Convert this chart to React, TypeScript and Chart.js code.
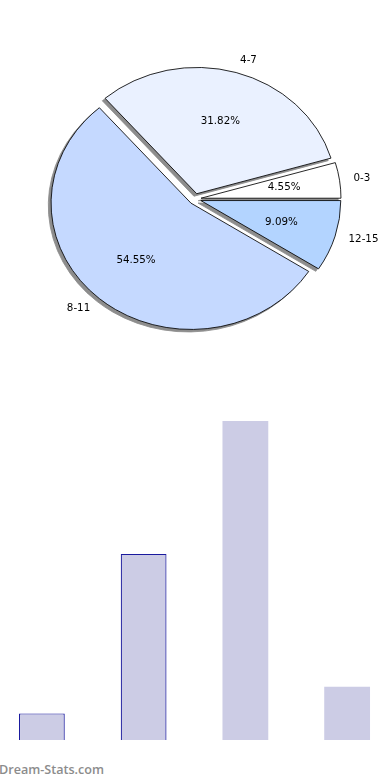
import React, { useEffect, useRef } from "react";
import { Chart, registerables } from "chart.js";

Chart.register(...registerables);

// ---- data ----
const categories = ["0-3", "4-7", "8-11", "12-15"];
const counts = [1, 7, 12, 2];
const pieColors = ["#ffffff", "#eaf1ff", "#c5d9ff", "#b3d4ff"];
const watermark = "Dream-Stats.com";

// ---- styling constants ----
const PIE_RADIUS = 126.3;
const X_STRETCH = 1.108;
const EXPLODE = 5.5;
const SHADOW = 2.5;
const SHADOW_COLOR = "#8d8d8d";
const LABEL_FONT_SIZE = 10.3;
const LABEL_FONT = `${LABEL_FONT_SIZE}px 'DejaVu Sans'`;
const BAR_FILL = "rgb(204,204,229)";
const BAR_EDGE = "#1a1a9e";

const total = counts.reduce((a, b) => a + b, 0);

const pieDrawPlugin = {
  id: "pieDraw",
  beforeDatasetDraw(chart: any, args: any) {
    const arcs = args.meta.data;
    if (!arcs.length) return;
    const ctx = chart.ctx;
    const cx = arcs[0].x;
    const cy = arcs[0].y;
    ctx.save();
    ctx.translate(cx, cy);
    ctx.scale(X_STRETCH, 1);
    ctx.translate(-cx, -cy);
    // shadows (drawn beneath every wedge)
    arcs.forEach((arc: any) => {
      const mid = (arc.startAngle + arc.endAngle) / 2;
      const o = arc.options;
      ctx.save();
      ctx.translate(Math.cos(mid) * EXPLODE - SHADOW, Math.sin(mid) * EXPLODE + SHADOW);
      arc.options = { ...o, backgroundColor: SHADOW_COLOR, borderColor: SHADOW_COLOR };
      arc.draw(ctx);
      arc.options = o;
      ctx.restore();
    });
    // exploded wedges
    arcs.forEach((arc: any) => {
      const mid = (arc.startAngle + arc.endAngle) / 2;
      ctx.save();
      ctx.translate(Math.cos(mid) * EXPLODE, Math.sin(mid) * EXPLODE);
      arc.draw(ctx);
      ctx.restore();
    });
    ctx.restore();
    return false;
  },
  afterDatasetsDraw(chart: any) {
    const meta = chart.getDatasetMeta(0);
    const arcs = meta.data;
    const ctx = chart.ctx;
    const labels = chart.data.labels;
    const values = chart.data.datasets[0].data;
    ctx.save();
    ctx.font = LABEL_FONT;
    ctx.fillStyle = "#000";
    ctx.textBaseline = "middle";
    arcs.forEach((arc: any, i: number) => {
      const mid = (arc.startAngle + arc.endAngle) / 2;
      const c = Math.cos(mid);
      const s = Math.sin(mid);
      const rl = 1.1 * PIE_RADIUS + EXPLODE;
      ctx.textAlign = c > 0 ? "left" : "right";
      ctx.fillText(labels[i], arc.x + X_STRETCH * rl * c, arc.y + rl * s);
      const rp = 0.6 * PIE_RADIUS + EXPLODE;
      ctx.textAlign = "center";
      const pct = ((values[i] / total) * 100).toFixed(2) + "%";
      ctx.fillText(pct, arc.x + X_STRETCH * rp * c, arc.y + rp * s);
    });
    ctx.restore();
  },
};

export default function App() {
  const pieRef = useRef<HTMLCanvasElement>(null);
  const barRef = useRef<HTMLCanvasElement>(null);

  useEffect(() => {
    // matplotlib draws counter-clockwise from east; Chart.js goes clockwise,
    // so feed the slices in reverse order starting at east.
    const pieLabels = [...categories].reverse();
    const pieValues = [...counts].reverse();
    const pieBg = [...pieColors].reverse();

    const pie = new Chart(pieRef.current!, {
      type: "pie",
      data: {
        labels: pieLabels,
        datasets: [
          {
            data: pieValues,
            backgroundColor: pieBg,
            borderColor: "#000",
            borderWidth: 0.8,
            offset: 0,
            hoverOffset: 0,
          } as any,
        ],
      },
      options: {
        animation: false,
        responsive: false,
        maintainAspectRatio: false,
        events: [],
        rotation: 90,
        radius: PIE_RADIUS,
        layout: { padding: 0 },
        plugins: { legend: { display: false }, tooltip: { enabled: false } },
      } as any,
      plugins: [pieDrawPlugin],
    });

    const bar = new Chart(barRef.current!, {
      type: "bar",
      data: {
        labels: categories,
        datasets: [
          {
            data: counts,
            backgroundColor: BAR_FILL,
            borderColor: (c: any) => (c.dataIndex < 2 ? BAR_EDGE : "rgba(0,0,0,0)"),
            borderWidth: (c: any) => (c.dataIndex < 2 ? 1.2 : 0),
            borderSkipped: "bottom",
            barPercentage: 0.5,
            categoryPercentage: 0.9,
          } as any,
        ],
      },
      options: {
        animation: false,
        responsive: false,
        maintainAspectRatio: false,
        events: [],
        layout: { padding: 0 },
        plugins: { legend: { display: false }, tooltip: { enabled: false } },
        scales: {
          x: { display: false, offset: true },
          y: { display: false, min: 0, max: 12 },
        },
      },
    });

    return () => {
      pie.destroy();
      bar.destroy();
    };
  }, []);

  return (
    <div
      style={{
        position: "absolute",
        left: 0,
        top: 0,
        width: 390,
        height: 780,
        overflow: "hidden",
        background: "#fff",
      }}
    >
      <canvas
        ref={pieRef}
        width={390}
        height={398}
        style={{ position: "absolute", left: 0, top: 0, width: 390, height: 398 }}
      />
      <div
        style={{
          position: "absolute",
          left: 0,
          top: 400,
          width: 390,
          height: 345,
          overflow: "hidden",
        }}
      >
        <canvas
          ref={barRef}
          width={407}
          height={319}
          style={{ position: "absolute", left: -9, top: 21, width: 407, height: 319 }}
        />
      </div>
      <div
        style={{
          position: "absolute",
          left: -1,
          top: 763.5,
          fontFamily: "'Open Sans', sans-serif",
          fontWeight: 600,
          fontSize: 12.6,
          lineHeight: "12.6px",
          color: "#8c8c8c",
          whiteSpace: "nowrap",
        }}
      >
        {watermark}
      </div>
    </div>
  );
}
